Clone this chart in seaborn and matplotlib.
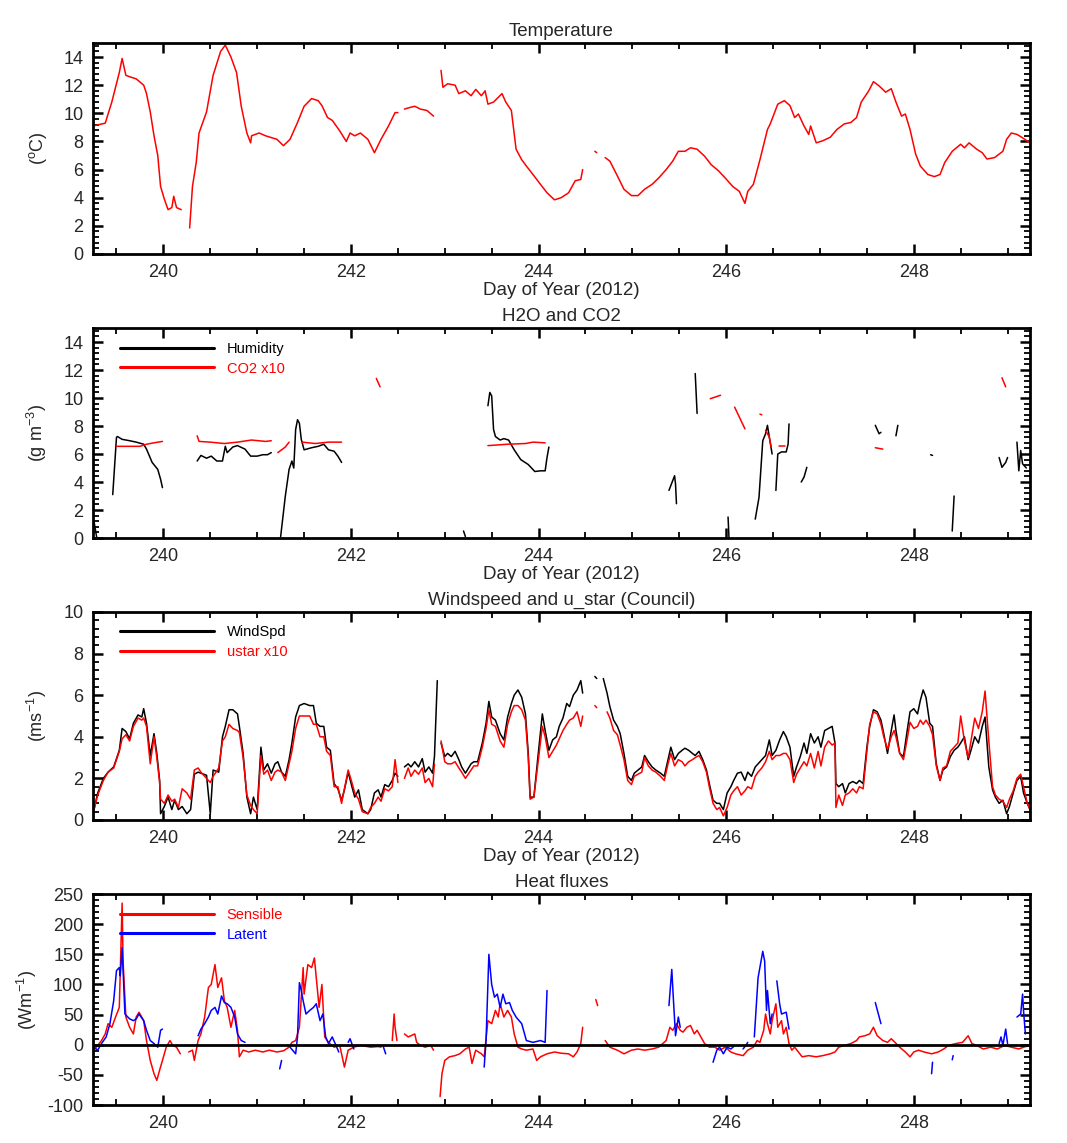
import matplotlib
matplotlib.use('Agg')
import matplotlib.pyplot as plt
from matplotlib.lines import Line2D
from matplotlib.ticker import MultipleLocator
import numpy as np
import pandas as pd
import seaborn as sns

nan = np.nan
GAP = (nan, nan)

#______________________________Data_(day_of_year,_value)___________________________
temperature = [
    (239.25, 9.1), (239.38, 9.3), (239.45, 10.8), (239.53, 12.9), (239.56, 13.9), (239.60, 12.7),
    (239.64, 12.6), (239.71, 12.45), (239.79, 12.0), (239.82, 11.4), (239.86, 10.1), (239.90, 8.4),
    (239.94, 7.0), (239.97, 4.8), (240.01, 3.9), (240.05, 3.15), (240.09, 3.3), (240.11, 4.1),
    (240.14, 3.3), (240.19, 3.15), GAP,
    (240.28, 1.85), (240.31, 4.8), (240.35, 6.5), (240.38, 8.6), (240.46, 10.1), (240.53, 12.7),
    (240.61, 14.4), (240.66, 14.85), (240.72, 14.0), (240.78, 12.9), (240.83, 10.5), (240.89, 8.6),
    (240.93, 7.9), (240.94, 8.4), (241.02, 8.6), (241.09, 8.4), (241.21, 8.15), (241.28, 7.7),
    (241.35, 8.15), (241.43, 9.35), (241.50, 10.5), (241.58, 11.05), (241.65, 10.9), (241.69, 10.55),
    (241.75, 9.7), (241.80, 9.5), (241.88, 8.75), (241.95, 8.0), (241.99, 8.6), (242.04, 8.4),
    (242.10, 8.6), (242.18, 8.15), (242.25, 7.2), (242.32, 8.15), (242.40, 9.1), (242.47, 10.05),
    (242.50, 10.05), GAP,
    (242.57, 10.3), (242.62, 10.4), (242.68, 10.5), (242.74, 10.3), (242.81, 10.2), (242.88, 9.8), GAP,
    (242.96, 13.05), (242.98, 11.85), (243.03, 12.1), (243.11, 12.0), (243.15, 11.4), (243.22, 11.6),
    (243.28, 11.25), (243.33, 11.7), (243.39, 11.25), (243.43, 11.6), (243.46, 10.65), (243.52, 10.8),
    (243.61, 11.4), (243.65, 10.8), (243.71, 10.2), (243.76, 7.45), (243.82, 6.7), (243.87, 6.25),
    (243.94, 5.65), (244.02, 4.95), (244.09, 4.35), (244.17, 3.85), (244.24, 4.0), (244.32, 4.35),
    (244.39, 5.2), (244.45, 5.3), (244.47, 6.0), GAP,
    (244.60, 7.3), (244.62, 7.2), GAP,
    (244.71, 6.85), (244.76, 6.6), (244.84, 5.55), (244.91, 4.6), (244.99, 4.15), (245.06, 4.15),
    (245.13, 4.6), (245.21, 4.95), (245.28, 5.4), (245.36, 6.0), (245.43, 6.6), (245.49, 7.3),
    (245.56, 7.3), (245.62, 7.55), (245.69, 7.45), (245.77, 6.95), (245.84, 6.35), (245.92, 5.9),
    (245.99, 5.4), (246.07, 4.8), (246.14, 4.45), (246.20, 3.6), (246.23, 4.45), (246.29, 4.95),
    (246.36, 6.7), (246.44, 8.85), (246.47, 9.25), (246.55, 10.65), (246.62, 10.9), (246.68, 10.55),
    (246.73, 9.7), (246.77, 9.95), (246.83, 9.1), (246.88, 8.5), (246.90, 9.1), (246.96, 7.9),
    (247.03, 8.05), (247.11, 8.3), (247.18, 8.85), (247.26, 9.25), (247.33, 9.35), (247.39, 9.7),
    (247.44, 10.8), (247.52, 11.6), (247.57, 12.25), (247.63, 11.95), (247.70, 11.5), (247.76, 11.75),
    (247.81, 10.8), (247.87, 9.8), (247.91, 9.95), (247.96, 8.85), (248.02, 7.1), (248.07, 6.25),
    (248.15, 5.65), (248.22, 5.5), (248.28, 5.65), (248.33, 6.5), (248.41, 7.3), (248.50, 7.8),
    (248.54, 7.55), (248.59, 7.9), (248.67, 7.45), (248.73, 7.2), (248.78, 6.75), (248.86, 6.85),
    (248.91, 7.1), (248.95, 7.3), (248.99, 8.15), (249.04, 8.6), (249.10, 8.5), (249.15, 8.3),
    (249.24, 7.9),
]

humidity = [
    (239.26, 1.2), (239.29, 0.0), GAP,
    (239.46, 3.1), (239.50, 7.2), (239.51, 7.25), (239.56, 7.05), (239.64, 6.95), (239.71, 6.85),
    (239.79, 6.7), (239.82, 6.35), (239.88, 5.4), (239.94, 4.9), (239.97, 4.2), (239.99, 3.6), GAP,
    (240.36, 5.5), (240.40, 5.9), (240.46, 5.7), (240.51, 5.85), (240.57, 5.5), (240.63, 5.5),
    (240.66, 6.55), (240.68, 6.1), (240.74, 6.5), (240.79, 6.6), (240.87, 6.35), (240.93, 5.85),
    (241.00, 5.85), (241.06, 5.95), (241.11, 5.95), (241.15, 6.1), GAP,
    (241.25, 0.1), (241.30, 3.0), (241.34, 4.9), (241.37, 5.5), (241.39, 5.0), (241.41, 7.75),
    (241.43, 8.45), (241.45, 8.2), (241.47, 7.05), (241.50, 6.3), (241.58, 6.45), (241.65, 6.55),
    (241.71, 6.7), (241.76, 6.3), (241.82, 6.2), (241.86, 5.85), (241.90, 5.4), GAP,
    (243.20, 0.5), (243.22, 0.1), GAP,
    (243.46, 9.45), (243.48, 10.4), (243.50, 10.15), (243.52, 7.75), (243.54, 7.25), (243.59, 7.0),
    (243.63, 7.1), (243.68, 7.0), (243.74, 6.3), (243.81, 5.6), (243.89, 5.25), (243.96, 4.75),
    (244.02, 4.8), (244.07, 4.8), (244.09, 5.75), (244.11, 6.5), GAP,
    (245.39, 3.4), (245.43, 4.1), (245.45, 4.45), (245.46, 3.85), (245.47, 2.45), GAP,
    (245.67, 11.75), (245.69, 8.9), GAP,
    (246.02, 1.5), (246.03, 0.0), GAP,
    (246.31, 1.35), (246.35, 2.9), (246.39, 6.95), (246.42, 7.45), (246.44, 8.05), (246.46, 7.2),
    (246.49, 6.0), GAP,
    (246.53, 3.4), (246.55, 6.0), (246.59, 6.15), (246.64, 6.15), (246.66, 6.7), (246.67, 8.15), GAP,
    (246.80, 4.0), (246.83, 4.35), (246.86, 5.05), GAP,
    (247.59, 8.05), (247.63, 7.45), (247.65, 7.55), GAP,
    (247.81, 7.3), (247.83, 8.05), GAP,
    (248.18, 5.95), (248.20, 5.9), GAP,
    (248.41, 0.5), (248.43, 3.0), GAP,
    (248.91, 5.75), (248.94, 5.05), (248.98, 5.4), (249.00, 5.75), GAP,
    (249.10, 6.85), (249.12, 4.8), (249.14, 6.25), (249.16, 5.3), (249.20, 5.0),
]

co2_x10 = [
    (239.50, 6.55), (239.75, 6.55), (239.82, 6.7), (239.90, 6.8), (239.99, 6.9), GAP,
    (240.36, 7.3), (240.38, 6.9), (240.50, 6.85), (240.65, 6.75), (240.79, 6.85), (240.94, 7.0),
    (241.09, 6.9), (241.15, 6.95), GAP,
    (241.22, 6.1), (241.30, 6.5), (241.34, 6.85), GAP,
    (241.48, 6.85), (241.62, 6.75), (241.76, 6.85), (241.90, 6.85), GAP,
    (242.27, 11.4), (242.31, 10.8), GAP,
    (243.46, 6.6), (243.67, 6.7), (243.86, 6.75), (243.94, 6.85), (244.07, 6.8), GAP,
    (245.83, 9.95), (245.94, 10.2), GAP,
    (246.09, 9.35), (246.20, 7.8), GAP,
    (246.36, 8.85), (246.38, 8.8), GAP,
    (246.42, 7.7), (246.46, 7.2), (246.48, 6.5), GAP,
    (246.56, 6.55), (246.63, 6.55), GAP,
    (247.59, 6.45), (247.67, 6.35), GAP,
    (248.94, 11.45), (248.98, 10.8),
]

# (day, WindSpd, ustar x10)
wind = [
    (239.26, 0.5, 0.5), (239.30, 1.3, 1.2), (239.36, 2.0, 1.9), (239.41, 2.3, 2.3), (239.47, 2.55, 2.5),
    (239.53, 3.35, 3.3), (239.56, 4.4, 3.9), (239.60, 4.25, 4.1), (239.64, 3.9, 3.8), (239.68, 4.65, 4.5),
    (239.73, 5.05, 4.9), (239.77, 4.95, 4.8), (239.79, 5.35, 4.9), (239.82, 4.65, 4.5), (239.86, 3.1, 2.7),
    (239.90, 4.15, 4.0), (239.93, 3.2, 3.0), (239.96, 1.9, 1.8), (239.97, 0.3, 1.0), (240.01, 0.65, 0.8),
    (240.05, 1.1, 1.2), (240.09, 0.5, 0.9), (240.12, 0.95, 1.0), (240.16, 0.5, 0.6), (240.20, 0.65, 1.5),
    (240.25, 0.3, 1.3), (240.29, 0.5, 1.0), (240.33, 2.2, 2.4), (240.37, 2.3, 2.5), (240.40, 2.25, 2.3),
    (240.46, 2.15, 2.0), (240.50, 0.3, 1.8), (240.53, 2.4, 2.1), (240.59, 2.3, 2.5), (240.63, 4.0, 3.8),
    (240.66, 4.5, 4.0), (240.70, 5.3, 4.6), (240.74, 5.3, 4.4), (240.79, 5.1, 4.3), (240.81, 4.5, 4.2),
    (240.85, 3.2, 3.0), (240.89, 1.1, 1.2), (240.93, 0.3, 0.7), (240.96, 1.1, 0.5), (241.00, 0.5, 0.3),
    (241.04, 3.5, 3.1), (241.07, 2.4, 2.2), (241.11, 2.7, 2.4), (241.15, 2.25, 1.9), (241.19, 2.7, 2.3),
    (241.22, 2.8, 2.4), (241.26, 2.3, 2.3), (241.30, 2.1, 1.9), (241.34, 2.9, 2.7), (241.37, 3.7, 3.3),
    (241.41, 4.95, 4.4), (241.45, 5.5, 5.0), (241.50, 5.6, 5.0), (241.56, 5.5, 5.0), (241.60, 5.5, 4.6),
    (241.63, 4.65, 4.6), (241.67, 4.5, 4.0), (241.71, 4.5, 4.0), (241.74, 3.5, 3.3), (241.78, 3.35, 3.1),
    (241.82, 1.75, 1.6), (241.86, 1.5, 1.6), (241.90, 0.95, 0.8), (241.93, 1.45, 1.5), (241.97, 2.3, 2.4),
    (242.01, 1.6, 1.8), (242.04, 1.1, 1.3), (242.08, 1.45, 1.0), (242.12, 0.5, 0.4), (242.18, 0.3, 0.3),
    (242.21, 0.5, 0.6), (242.25, 1.3, 0.8), (242.29, 1.45, 1.1), (242.32, 1.1, 0.9), (242.36, 1.7, 1.5),
    (242.40, 1.6, 1.4), (242.44, 1.9, 1.6), (242.47, 2.25, 2.9), (242.50, 2.1, 1.8), (nan, nan, nan),
    (242.57, 2.55, 2.0), (242.61, 2.7, 2.5), (242.64, 2.55, 2.1), (242.68, 2.8, 2.4), (242.72, 2.55, 2.2),
    (242.76, 2.95, 2.5), (242.79, 2.3, 1.8), (242.83, 2.55, 2.0), (242.87, 2.25, 1.6), (242.89, 3.05, 2.7),
    (242.92, 6.7, nan), (nan, nan, nan),
    (242.96, 3.7, 3.8), (243.00, 3.05, 2.8), (243.03, 3.2, 2.7), (243.07, 3.05, 2.7), (243.11, 3.3, 2.8),
    (243.15, 2.9, 2.5), (243.18, 2.55, 2.3), (243.22, 2.25, 2.0), (243.28, 2.7, 2.4), (243.31, 2.8, 2.6),
    (243.35, 2.8, 2.6), (243.40, 3.7, 3.5), (243.44, 4.65, 4.4), (243.47, 5.7, 5.3), (243.50, 4.95, 4.6),
    (243.54, 4.8, 4.5), (243.59, 4.15, 3.8), (243.63, 3.85, 3.5), (243.67, 4.95, 4.6), (243.71, 5.6, 5.2),
    (243.74, 6.0, 5.5), (243.78, 6.25, 5.5), (243.82, 5.9, 5.3), (243.86, 5.1, 4.8), (243.89, 3.2, 3.0),
    (243.91, 1.1, 1.0), (243.95, 1.1, 1.1), (243.99, 2.9, 2.6), (244.04, 5.1, 4.5), (244.07, 4.3, 4.0),
    (244.11, 3.35, 3.0), (244.15, 3.85, 3.3), (244.19, 4.0, 3.6), (244.22, 4.5, 3.9), (244.26, 4.9, 4.3),
    (244.30, 5.6, 4.6), (244.33, 5.45, 4.8), (244.37, 6.0, 4.9), (244.41, 6.25, 5.2), (244.45, 6.7, 4.5),
    (244.47, 6.1, 5.0), (nan, nan, nan),
    (244.60, 6.9, 5.5), (244.62, 6.8, 5.4), (nan, nan, nan),
    (244.69, 6.8, nan), (244.73, 6.1, 5.2), (244.76, 5.45, 4.9), (244.80, 4.8, 4.3), (244.84, 4.5, 4.1),
    (244.87, 4.15, 3.6), (244.91, 3.2, 2.9), (244.95, 2.1, 1.9), (244.99, 1.9, 1.7), (245.02, 2.25, 2.1),
    (245.06, 2.4, 2.2), (245.10, 2.55, 2.3), (245.13, 3.1, 3.0), (245.17, 2.8, 2.6), (245.21, 2.55, 2.4),
    (245.25, 2.4, 2.3), (245.30, 2.25, 2.1), (245.34, 2.1, 1.9), (245.38, 2.9, 2.7), (245.41, 3.5, 3.2),
    (245.45, 2.9, 2.6), (245.49, 3.2, 2.9), (245.53, 3.35, 2.8), (245.56, 3.45, 2.6), (245.60, 3.35, 2.8),
    (245.64, 3.2, 2.9), (245.67, 3.1, 3.0), (245.71, 3.3, 3.1), (245.75, 2.9, 2.8), (245.79, 2.4, 2.3),
    (245.82, 1.75, 1.6), (245.86, 0.95, 0.8), (245.90, 0.8, 0.5), (245.93, 0.8, 0.6), (245.97, 0.5, 0.2),
    (246.01, 1.3, 0.6), (246.05, 1.6, 1.2), (246.08, 1.9, 1.4), (246.12, 2.25, 1.6), (246.16, 2.3, 1.2),
    (246.20, 1.9, 1.4), (246.23, 2.3, 1.6), (246.27, 2.1, 1.5), (246.31, 2.55, 2.1), (246.34, 2.7, 2.3),
    (246.38, 2.9, 2.5), (246.42, 3.1, 2.8), (246.46, 3.85, 3.3), (246.49, 3.1, 2.9), (246.53, 3.35, 3.1),
    (246.57, 3.85, 3.1), (246.61, 4.25, 3.2), (246.64, 4.0, 3.2), (246.68, 3.5, 2.9), (246.72, 2.1, 1.8),
    (246.75, 2.55, 2.2), (246.79, 3.05, 2.5), (246.83, 3.7, 2.8), (246.86, 3.2, 2.6), (246.90, 4.15, 3.2),
    (246.94, 3.7, 2.5), (246.98, 4.0, 3.3), (247.01, 3.5, 2.6), (247.05, 4.3, 3.5), (247.09, 4.4, 3.8),
    (247.13, 4.5, 3.6), (247.16, 3.7, 3.7), (247.17, 1.75, 0.6), (247.20, 1.6, 1.2), (247.24, 1.75, 0.7),
    (247.27, 1.3, 1.2), (247.31, 1.75, 1.3), (247.35, 1.85, 1.5), (247.39, 1.75, 1.3), (247.42, 1.9, 1.6),
    (247.46, 1.75, 1.5), (247.50, 3.5, 3.3), (247.53, 4.5, 4.6), (247.57, 5.3, 5.2), (247.61, 5.2, 5.1),
    (247.65, 4.8, 4.6), (247.68, 4.15, 4.0), (247.72, 3.2, 3.4), (247.76, 4.3, 4.0), (247.79, 5.05, 4.3),
    (247.81, 4.3, 4.0), (247.85, 3.2, 3.2), (247.89, 3.05, 2.9), (247.93, 4.3, 3.9), (247.96, 5.2, 4.7),
    (248.00, 5.35, 4.4), (248.04, 5.1, 4.5), (248.07, 5.75, 4.8), (248.10, 6.25, 4.6), (248.13, 5.9, 4.8),
    (248.17, 4.65, 4.5), (248.20, 4.5, 4.1), (248.24, 2.7, 2.6), (248.28, 1.9, 1.9), (248.31, 2.4, 2.5),
    (248.35, 2.55, 2.6), (248.39, 3.05, 3.3), (248.43, 3.35, 3.5), (248.47, 3.5, 3.7), (248.50, 3.7, 5.0),
    (248.54, 4.0, 3.8), (248.58, 2.9, 3.0), (248.61, 3.35, 3.8), (248.65, 4.0, 4.9), (248.69, 3.7, 4.4),
    (248.73, 4.5, 5.2), (248.76, 4.95, 6.2), (248.80, 2.55, 3.8), (248.84, 1.45, 1.6), (248.87, 1.1, 1.2),
    (248.91, 0.8, 1.0), (248.95, 0.95, 0.9), (248.99, 0.3, 0.6), (249.02, 0.65, 1.0), (249.06, 1.3, 1.4),
    (249.10, 1.9, 2.0), (249.14, 2.1, 2.2), (249.17, 1.3, 1.6), (249.21, 0.8, 0.8), (249.24, 0.5, 0.5),
]

sensible = [
    (239.26, -9), (239.30, -1), (239.34, 7), (239.38, 18), (239.41, 35), (239.45, 29), (239.49, 46),
    (239.53, 62), (239.56, 235), (239.57, 139), (239.60, 46), (239.64, 29), (239.68, 18), (239.71, 46),
    (239.74, 54), (239.79, 40), (239.82, 7), (239.86, -26), (239.90, -48), (239.93, -59), (239.96, -42),
    (239.99, -26), (240.03, -4), (240.07, 7), (240.10, -1), (240.14, -4), (240.18, -15), GAP,
    (240.27, -12), (240.31, -9), (240.33, -26), (240.37, 7), (240.40, 18), (240.44, 46), (240.48, 95),
    (240.51, 100), (240.55, 133), (240.58, 95), (240.62, 111), (240.65, 73), (240.68, 62), (240.72, 29),
    (240.76, 57), (240.79, 24), (240.81, -20), (240.85, -9), (240.91, -12), (240.98, -9), (241.06, -12),
    (241.13, -9), (241.21, -12), (241.28, -10), (241.34, -4), (241.37, 4), (241.41, 7), (241.45, 29),
    (241.49, 128), (241.50, 84), (241.54, 133), (241.58, 128), (241.61, 144), (241.63, 111), (241.66, 62),
    (241.69, 100), (241.72, 13), (241.76, 4), (241.82, -4), (241.88, -1), (241.93, -37), (241.97, -9),
    (242.03, -4), (242.10, -1), (242.21, -4), (242.29, -3), (242.32, -4), GAP,
    (242.44, 7), (242.46, 51), (242.47, 29), (242.49, 7), GAP,
    (242.57, 18), (242.61, 13), (242.64, 15), (242.68, 18), (242.70, 4), (242.74, -1), (242.79, -4),
    (242.85, -1), (242.88, -9), GAP,
    (242.95, -86), (242.97, -48), (243.00, -26), (243.05, -20), (243.11, -18), (243.16, -15), (243.22, -7),
    (243.26, -4), (243.29, -31), (243.33, -9), (243.39, -15), (243.42, -20), (243.46, 40), (243.50, 35),
    (243.54, 57), (243.57, 46), (243.59, 68), (243.63, 46), (243.67, 57), (243.71, 46), (243.74, 18),
    (243.78, -4), (243.82, -7), (243.87, -9), (243.94, -7), (243.98, -26), (244.02, -20), (244.09, -15),
    (244.17, -12), (244.24, -14), (244.32, -15), (244.37, -20), (244.41, -12), (244.45, 2), (244.47, 29), GAP,
    (244.61, 75), (244.63, 65), GAP,
    (244.71, 7), (244.76, -4), (244.84, -9), (244.91, -15), (244.99, -9), (245.06, -7), (245.13, -9),
    (245.21, -7), (245.28, -4), (245.36, 7), (245.40, 29), (245.43, 24), (245.47, 35), (245.51, 24),
    (245.54, 21), (245.58, 29), (245.62, 32), (245.66, 18), (245.69, 24), (245.73, 13), (245.77, 2),
    (245.82, -4), (245.88, -4), (245.93, -9), (245.99, -4), (246.05, -12), (246.10, -15), (246.18, -18),
    (246.23, -9), (246.29, -4), (246.33, 7), (246.36, 4), (246.40, 24), (246.42, 51), (246.44, 35),
    (246.47, 18), (246.49, 40), (246.53, 68), (246.55, 29), (246.59, 40), (246.61, 18), (246.64, 29),
    (246.67, 2), (246.70, -9), (246.73, -4), (246.77, -12), (246.81, -20), (246.88, -18), (246.96, -20),
    (247.03, -18), (247.11, -15), (247.16, -12), (247.20, -4), (247.26, -1), (247.33, 2), (247.39, 7),
    (247.42, 13), (247.48, 15), (247.53, 18), (247.57, 29), (247.61, 15), (247.67, 7), (247.72, 4),
    (247.76, 10), (247.80, 4), (247.85, -4), (247.91, -12), (247.96, -20), (248.00, -12), (248.05, -9),
    (248.11, -12), (248.19, -15), (248.26, -12), (248.32, -7), (248.37, -1), (248.45, 2), (248.52, 4),
    (248.58, 15), (248.62, 2), (248.67, -1), (248.74, -7), (248.82, -4), (248.89, -7), (248.97, -1),
    (249.04, -4), (249.12, -7), (249.17, -4), (249.24, -1),
]

latent = [
    (239.26, -4), (239.30, -9), (239.34, 2), (239.39, 13), (239.43, 35), (239.47, 73), (239.50, 123),
    (239.53, 128), (239.54, 114), (239.56, 161), (239.59, 51), (239.64, 43), (239.68, 40), (239.71, 43),
    (239.74, 51), (239.79, 40), (239.82, 24), (239.86, 7), (239.90, 2), (239.94, -4), (239.97, 24),
    (239.99, 26), GAP,
    (240.37, 15), (240.40, 26), (240.44, 35), (240.48, 46), (240.51, 57), (240.55, 62), (240.58, 51),
    (240.62, 81), (240.65, 70), (240.68, 68), (240.72, 62), (240.76, 46), (240.79, 18), (240.83, 7),
    (240.87, 4), GAP,
    (241.24, -40), (241.26, -26), GAP,
    (241.35, -4), (241.41, -15), (241.43, 13), (241.45, 103), (241.47, 90), (241.49, 73), (241.52, 51),
    (241.56, 57), (241.60, 62), (241.63, 68), (241.67, 40), (241.70, 51), (241.73, 13), (241.76, 2),
    (241.80, 13), (241.84, -1), (241.87, -12), GAP,
    (241.97, 4), (241.99, 10), (242.03, -7), GAP,
    (242.34, -1), (242.37, -15), GAP,
    (243.42, -37), (243.44, 7), (243.47, 150), (243.50, 100), (243.53, 79), (243.56, 84), (243.59, 62),
    (243.62, 84), (243.65, 68), (243.69, 70), (243.72, 57), (243.76, 46), (243.82, 35), (243.87, 7),
    (243.94, 4), (244.02, 7), (244.07, 4), (244.09, 90), GAP,
    (245.39, 65), (245.42, 125), (245.44, 68), (245.46, 15), (245.49, 46), (245.51, 29), GAP,
    (245.86, -29), (245.90, -9), (245.93, -4), (245.97, -15), (246.01, -4), (246.05, -7), (246.08, -3), GAP,
    (246.18, -7), (246.21, -1), (246.23, 4), GAP,
    (246.30, 13), (246.34, 111), (246.39, 155), (246.41, 139), (246.43, 57), (246.44, 90), (246.47, 35),
    (246.49, 51), GAP,
    (246.54, 106), (246.57, 68), (246.59, 51), (246.64, 54), (246.67, 26), GAP,
    (247.59, 70), (247.65, 35), GAP,
    (248.19, -48), (248.20, -29), GAP,
    (248.41, -25), (248.42, -18), GAP,
    (248.91, 2), (248.93, 13), (248.95, -1), (248.98, 26), (249.00, 2), GAP,
    (249.10, 46), (249.14, 51), (249.16, 84), (249.17, 57), (249.19, 18),
]

day_ticks = [240, 242, 244, 246, 248]

#______________________________Helpers_______________________________________________
def segments(pairs):
    df = pd.DataFrame(pairs, columns=['day', 'val'])
    df['seg'] = df['val'].isna().cumsum()
    return df.dropna()

def draw(ax, pairs, color, lw=1.1):
    sns.lineplot(data=segments(pairs), x='day', y='val', units='seg', estimator=None,
                 sort=False, color=color, lw=lw, ax=ax, legend=False)

def style(ax, ylim, ymajor, title, ylabel, xlabel=True, ylabelpad=10):
    ax.set_xlim(239.25, 249.24)
    ax.set_ylim(*ylim)
    ax.set_xticks(day_ticks)
    ax.xaxis.set_minor_locator(MultipleLocator(0.5))
    ax.yaxis.set_major_locator(MultipleLocator(ymajor))
    ax.yaxis.set_minor_locator(MultipleLocator(ymajor / 5))
    ax.tick_params(which='both', direction='in', top=True, right=True, labelsize=13, pad=7, color='black')
    ax.tick_params(which='major', length=7, width=1.8)
    ax.tick_params(which='minor', length=4, width=1.3)
    for sp in ax.spines.values():
        sp.set_linewidth(2.0)
        sp.set_color('black')
    ax.set_title(title, fontsize=13.5, pad=5)
    ax.set_ylabel(ylabel, fontsize=13, labelpad=ylabelpad)
    ax.set_xlabel('Day of Year (2012)' if xlabel else '', fontsize=13.5, labelpad=1)

def add_legend(ax, labels, colors):
    handles = [Line2D([], [], color=c, lw=2.2) for c in colors]
    ax.legend(handles, labels, loc='upper left', bbox_to_anchor=(0.029, 0.935), frameon=False,
              borderaxespad=0, borderpad=0, handlelength=6.4, handletextpad=0.9,
              labelspacing=0.4, fontsize=10.5, labelcolor=colors)

#______________________________Figure________________________________________________
sns.set_theme(style='ticks')
plt.rcParams['font.family'] = ['Liberation Sans', 'DejaVu Sans']
plt.rcParams['mathtext.default'] = 'regular'
plt.rcParams['axes.unicode_minus'] = False

fig = plt.figure(figsize=(10.67, 11.43), dpi=100)
left, width = 0.0872, 0.8782
ax0 = fig.add_axes([left, 0.7778, width, 0.1846])
ax1 = fig.add_axes([left, 0.5293, width, 0.1837])
ax2 = fig.add_axes([left, 0.2826, width, 0.1820])
ax3 = fig.add_axes([left, 0.0332, width, 0.1846])

draw(ax0, temperature, 'red')
style(ax0, (0, 15), 2, 'Temperature', r'($^{o}$C)')

draw(ax1, humidity, 'black')
draw(ax1, co2_x10, 'red')
style(ax1, (0, 15), 2, 'H2O and CO2', r'(g m$^{-3}$)')
add_legend(ax1, ['Humidity', 'CO2 x10'], ['black', 'red'])

draw(ax2, [(d, w) for d, w, u in wind], 'black')
draw(ax2, [(d, u) for d, w, u in wind], 'red')
style(ax2, (0, 10), 2, 'Windspeed and u_star (Council)', r'(ms$^{-1}$)')
add_legend(ax2, ['WindSpd', 'ustar x10'], ['black', 'red'])

draw(ax3, sensible, 'red')
draw(ax3, latent, 'blue')
ax3.axhline(0, color='black', lw=2, zorder=5)
style(ax3, (-100, 250), 50, 'Heat fluxes', r'(Wm$^{-1}$)', xlabel=False, ylabelpad=6)
add_legend(ax3, ['Sensible', 'Latent'], ['red', 'blue'])

fig.savefig('out.png', dpi=100)
